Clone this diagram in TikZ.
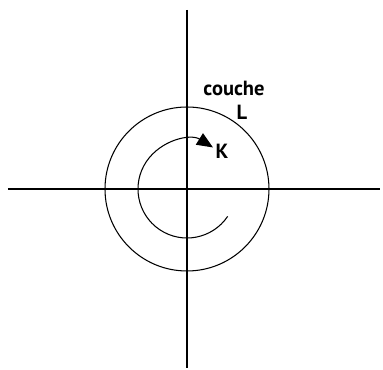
\documentclass[tikz,border=0pt]{standalone}
\usepackage{fontspec}
\setmainfont{PT Sans}
\usetikzlibrary{arrows.meta}

\begin{document}
\begin{tikzpicture}[x=0.03cm,y=0.03cm,line width=0.9pt,
    lbl/.style={font=\fontsize{17.5}{20}\selectfont\bfseries,inner sep=0pt}]
  \useasboundingbox (-187,-181) rectangle (196,189);
  \coordinate (O) at (0,0);
  % axes
  \draw (0,179) -- (0,-179);
  \draw (-179,0) -- (193,0);
  % couche L
  \draw (O) circle (82);
  \node[lbl] (couche) at (47,101) {couche};
  \node[lbl] (L) at (55,77) {L};
  % couche K, with its sense of travel
  \draw[-{Triangle[length=0.48cm,width=0.4cm]}] (O) ++(-34:49) arc (-34:-302:49);
  \node[lbl] (K) at (35,38) {K};
\end{tikzpicture}
\end{document}
